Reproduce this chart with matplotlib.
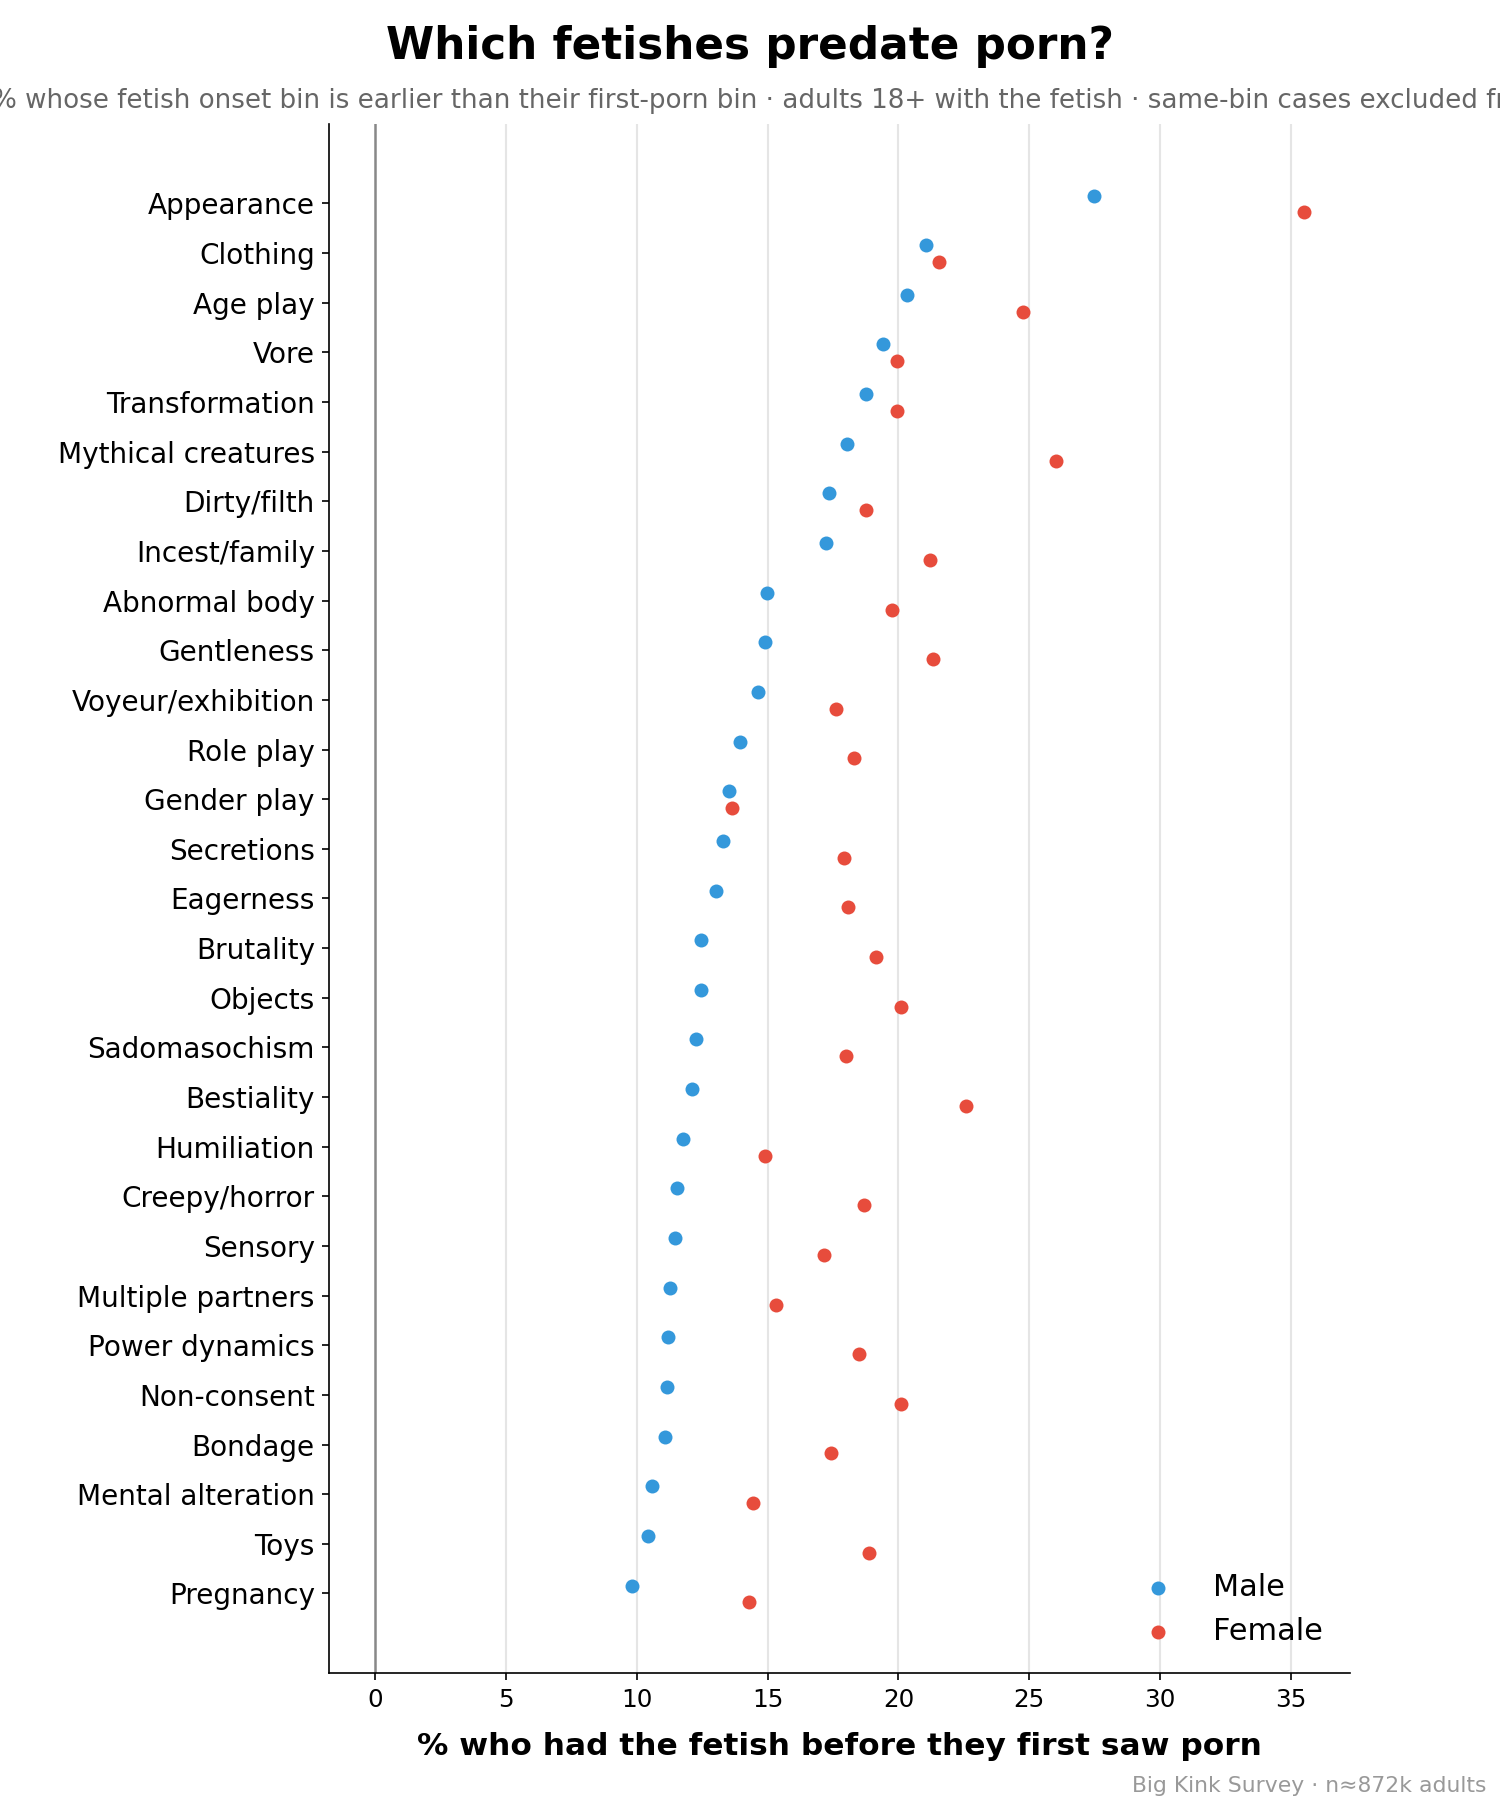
import numpy as np
import matplotlib
matplotlib.use("Agg")
import matplotlib.pyplot as plt

# fetish categories, top to bottom
fetishes = ["Appearance", "Clothing", "Age play", "Vore", "Transformation",
            "Mythical creatures", "Dirty/filth", "Incest/family", "Abnormal body",
            "Gentleness", "Voyeur/exhibition", "Role play", "Gender play",
            "Secretions", "Eagerness", "Brutality", "Objects", "Sadomasochism",
            "Bestiality", "Humiliation", "Creepy/horror", "Sensory",
            "Multiple partners", "Power dynamics", "Non-consent", "Bondage",
            "Mental alteration", "Toys", "Pregnancy"]

# % who had the fetish before first seeing porn
male = [27.47, 21.06, 20.33, 19.42, 18.75, 18.03, 17.36, 17.22, 14.97,
        14.89, 14.62, 13.95, 13.52, 13.28, 13.04, 12.47, 12.45, 12.26,
        12.12, 11.75, 11.53, 11.45, 11.27, 11.19, 11.16, 11.08, 10.57,
        10.41, 9.82]
female = [35.52, 21.57, 24.76, 19.96, 19.93, 26.02, 18.75, 21.19, 19.74,
          21.33, 17.62, 18.29, 13.63, 17.92, 18.08, 19.13, 20.09, 18.00,
          22.59, 14.89, 18.67, 17.14, 15.32, 18.51, 20.09, 17.41, 14.43,
          18.86, 14.27]

x_ticks = [0, 5, 10, 15, 20, 25, 30, 35]

subtitle = ("% whose fetish onset bin is earlier than their first-porn bin \u00b7 "
            "adults 18+ with the fetish \u00b7 same-bin cases excluded from the denominator")

blue = "#3498db"
red = "#e74c3c"

fig = plt.figure(figsize=(10, 12), dpi=150)
ax = fig.add_axes([0.2196, 0.0706, 0.6802, 0.8605])

y = np.arange(len(fetishes))
ax.scatter(male, y - 0.16, s=45, color=blue, label="Male", zorder=3, linewidths=0)
ax.scatter(female, y + 0.18, s=45, color=red, label="Female", zorder=3, linewidths=0)

ax.axvline(0, color="#888888", lw=1.2, zorder=1)
for t in x_ticks[1:]:
    ax.axvline(t, color="#e5e5e5", lw=1.0, zorder=0)

ax.set_yticks(y)
ax.set_yticklabels(fetishes, fontsize=13.4)
ax.set_xticks(x_ticks)
ax.tick_params(axis="x", labelsize=11.8)
ax.set_xlim(-1.75, 37.25)
ax.set_ylim(len(fetishes) - 1 + 1.6, -1.6)

ax.spines["top"].set_visible(False)
ax.spines["right"].set_visible(False)

ax.set_xlabel("% who had the fetish before they first saw porn",
              fontsize=15, fontweight="bold", labelpad=10)

ax.legend(loc="lower right", frameon=False, fontsize=14.5)

fig.text(0.5, 0.974, "Which fetishes predate porn?", ha="center", va="center",
         fontsize=21, fontweight="bold")
fig.text(-0.0055, 0.944, subtitle, ha="left", va="center", fontsize=12.55,
         color="#666666")
fig.text(0.991, 0.008, "Big Kink Survey \u00b7 n\u2248872k adults", ha="right",
         va="center", fontsize=10.5, color="#999999")

plt.savefig("out.png", dpi=150)
